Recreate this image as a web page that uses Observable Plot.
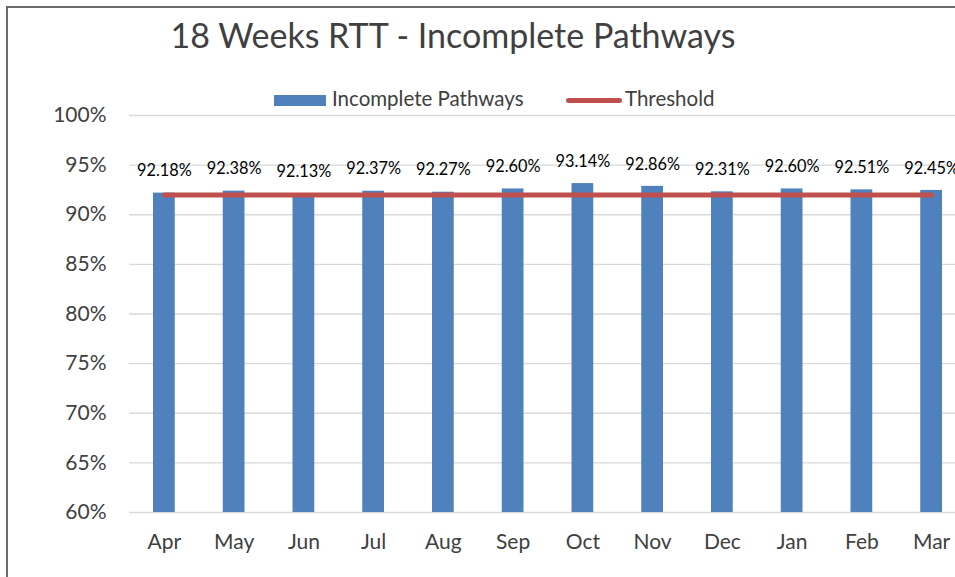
<!DOCTYPE html>
<html><head><meta charset="utf-8">
<script src="https://cdn.jsdelivr.net/npm/d3@7"></script>
<script src="https://cdn.jsdelivr.net/npm/@observablehq/plot@0.6"></script>
<style>
html,body{margin:0;padding:0;overflow:hidden;background:#fff;}
#wrap{position:relative;width:955px;height:577px;overflow:hidden;font-family:Lato,sans-serif;color:#404040;}
#frame{position:absolute;left:6px;top:6px;width:1100px;height:700px;border:2px solid #6a6a6a;box-sizing:border-box;}
#title{position:absolute;left:0;top:18px;width:906px;text-align:center;font-size:34px;line-height:34px;white-space:nowrap;}
.lg{position:absolute;white-space:nowrap;font-size:20.5px;line-height:20.5px;}
#chart{position:absolute;left:0;top:0;width:1000px;}
#chart svg{max-width:none !important;}
</style>
</head><body>
<div id="wrap">
  <div id="frame"></div>
  <div id="chart"></div>
  <div id="title"></div>
  <div id="sw1" style="position:absolute;left:274px;top:95px;width:52px;height:11px;background:#4F81BD"></div>
  <div id="lt1" class="lg" style="left:332px;top:88px;"></div>
  <div id="sw2" style="position:absolute;left:566px;top:97.5px;width:56px;height:5px;border-radius:3px;background:#C0504D"></div>
  <div id="lt2" class="lg" style="left:625px;top:88px;"></div>
</div>
<script>
const titleText = "18 Weeks RTT - Incomplete Pathways";
const seriesNames = ["Incomplete Pathways", "Threshold"];
const months = ["Apr","May","Jun","Jul","Aug","Sep","Oct","Nov","Dec","Jan","Feb","Mar"];
const values = [92.18, 92.38, 92.13, 92.37, 92.27, 92.60, 93.14, 92.86, 92.31, 92.60, 92.51, 92.45];
const threshold = [92, 92, 92, 92, 92, 92, 92, 92, 92, 92, 92, 92];
const yTicks = [60, 65, 70, 75, 80, 85, 90, 95, 100];

document.getElementById("title").textContent = titleText;
document.getElementById("lt1").textContent = seriesNames[0];
document.getElementById("lt2").textContent = seriesNames[1];

const rows = months.map((m, i) => ({month: m, value: values[i], threshold: threshold[i]}));

const chart = Plot.plot({
  width: 1000,
  height: 577,
  marginLeft: 129,
  marginRight: 0,
  marginTop: 115,
  marginBottom: 65,
  style: {fontFamily: "Lato, sans-serif", background: "transparent", overflow: "visible", maxWidth: "none"},
  x: {type: "band", domain: months, range: [129, 966], padding: 0, round: false, label: null},
  y: {domain: [60, 100], range: [512, 115], label: null},
  marks: [
    Plot.ruleY(yTicks, {stroke: "#D9D9D9", strokeWidth: 1.3}),
    Plot.barY(rows, {x: "month", y1: 60, y2: "value", fill: "#4F81BD", insetLeft: 24, insetRight: 24}),
    Plot.lineY(rows, {x: "month", y: "threshold", stroke: "#C0504D", strokeWidth: 5, strokeLinecap: "round"}),
    Plot.text(rows, {x: "month", y: "value", text: d => d.value.toFixed(2) + "%", dy: -22, fontSize: 16.3, fill: "#000"}),
    Plot.axisY({ticks: yTicks, tickSize: 0, tickPadding: 23, tickFormat: d => d + "%", fontSize: 21, fill: "#404040", label: null}),
    Plot.axisX({tickSize: 0, tickPadding: 22, fontSize: 21, fill: "#404040", label: null})
  ]
});
document.getElementById("chart").appendChild(chart);
</script>
</body></html>
